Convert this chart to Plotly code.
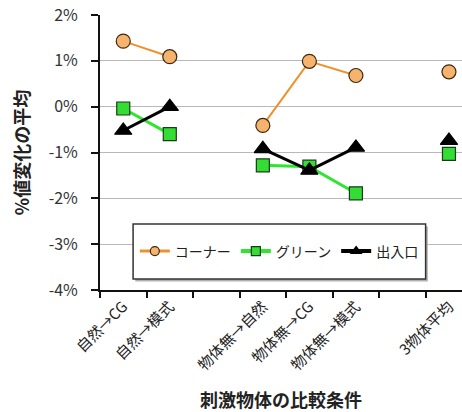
import plotly.graph_objects as go

categories = ["自然→CG", "自然→模式", " ", "物体無→自然", "物体無→CG", "物体無→模式", "  ", "3物体平均"]
corner = [1.43, 1.09, None, -0.41, 0.99, 0.68, None, 0.76]
green = [-0.04, -0.60, None, -1.28, -1.31, -1.89, None, -1.03]
entrance = [-0.52, 0.0, None, -0.92, -1.39, -0.89, None, -0.74]
series_names = ["コーナー", "グリーン", "出入口"]
y_ticks = [-4, -3, -2, -1, 0, 1, 2]
y_tick_text = ["-4%", "-3%", "-2%", "-1%", "0%", "1%", "2%"]

FONT = "Noto Sans CJK JP"

styles = [
    dict(line=dict(color="#F0902A", width=2), symbol="circle", size=14, fill="#F7B36E", edge="#3a2a10"),
    dict(line=dict(color="#2EE62E", width=3), symbol="square", size=13, fill="#33DD33", edge="#1a3a1a"),
    dict(line=dict(color="#000000", width=3), symbol="triangle-up", size=15, fill="#000000", edge="#000000"),
]

fig = go.Figure()
for name, vals, st in zip(series_names, [corner, green, entrance], styles):
    fig.add_trace(go.Scatter(
        x=categories, y=vals, name=name, mode="lines+markers",
        line=st["line"],
        marker=dict(symbol=st["symbol"], size=st["size"], color=st["fill"], line=dict(color=st["edge"], width=1.2)),
        connectgaps=False, showlegend=False))
# legend-only entries with smaller symbols, as in the reference legend
for name, st in zip(series_names, styles):
    fig.add_trace(go.Scatter(
        x=[None], y=[None], name=name, mode="lines+markers",
        line=dict(color=st["line"]["color"], width=st["line"]["width"] + 1),
        marker=dict(symbol=st["symbol"], size=9, color=st["fill"], line=dict(color=st["edge"], width=1.2)),
        showlegend=True))

# legend frame (box with drop shadow) in paper coordinates
box_x0, box_x1, box_y0, box_y1 = 0.0914, 0.8995, 0.040, 0.240
fig.add_shape(type="rect", xref="paper", yref="paper",
              x0=box_x0 + 0.006, x1=box_x1 + 0.006, y0=box_y0 - 0.009, y1=box_y1 - 0.009,
              fillcolor="#b0b0b0", line=dict(width=0), layer="above")
fig.add_shape(type="rect", xref="paper", yref="paper",
              x0=box_x0, x1=box_x1, y0=box_y0, y1=box_y1,
              fillcolor="white", line=dict(color="#333333", width=1.5), layer="above")

fig.update_layout(
    width=462, height=412,
    margin=dict(l=100, r=0, t=15, b=122),
    paper_bgcolor="white", plot_bgcolor="white",
    font=dict(family=FONT, color="#222222"),
    showlegend=True,
    legend=dict(
        orientation="h", x=(box_x0 + box_x1) / 2, y=(box_y0 + box_y1) / 2,
        xanchor="center", yanchor="middle",
        bgcolor="rgba(0,0,0,0)", borderwidth=0,
        font=dict(size=14, family=FONT, color="#222222"),
        itemwidth=30, tracegroupgap=0,
    ),
)
fig.update_xaxes(
    type="category", categoryorder="array", categoryarray=categories,
    range=[-0.5, 7.28],
    showline=True, linecolor="#111111", linewidth=2,
    ticks="outside", ticklen=6, tickwidth=1.5, tickcolor="#111111",
    tickson="boundaries", tickangle=-45,
    tickfont=dict(size=15, family=FONT, color="#222222"),
    showgrid=False, zeroline=False,
    title=dict(text="<b>刺激物体の比較条件</b>", font=dict(size=18, family=FONT, color="#222222"), standoff=22),
)
fig.update_yaxes(
    range=[-4, 2], tickvals=y_ticks, ticktext=y_tick_text,
    showline=True, linecolor="#111111", linewidth=2,
    ticks="outside", ticklen=7, tickwidth=1.5, tickcolor="#111111",
    showgrid=True, gridcolor="#B8B8B8", gridwidth=1, zeroline=False,
    tickfont=dict(size=16, family=FONT, color="#333333"),
    ticklabelstandoff=10,
    title=dict(text="<b>%値変化の平均</b>", font=dict(size=18, family=FONT, color="#222222"), standoff=14),
)

fig.write_html("out.html", config={"displayModeBar": False},
               post_script="document.body.style.margin='0';")
